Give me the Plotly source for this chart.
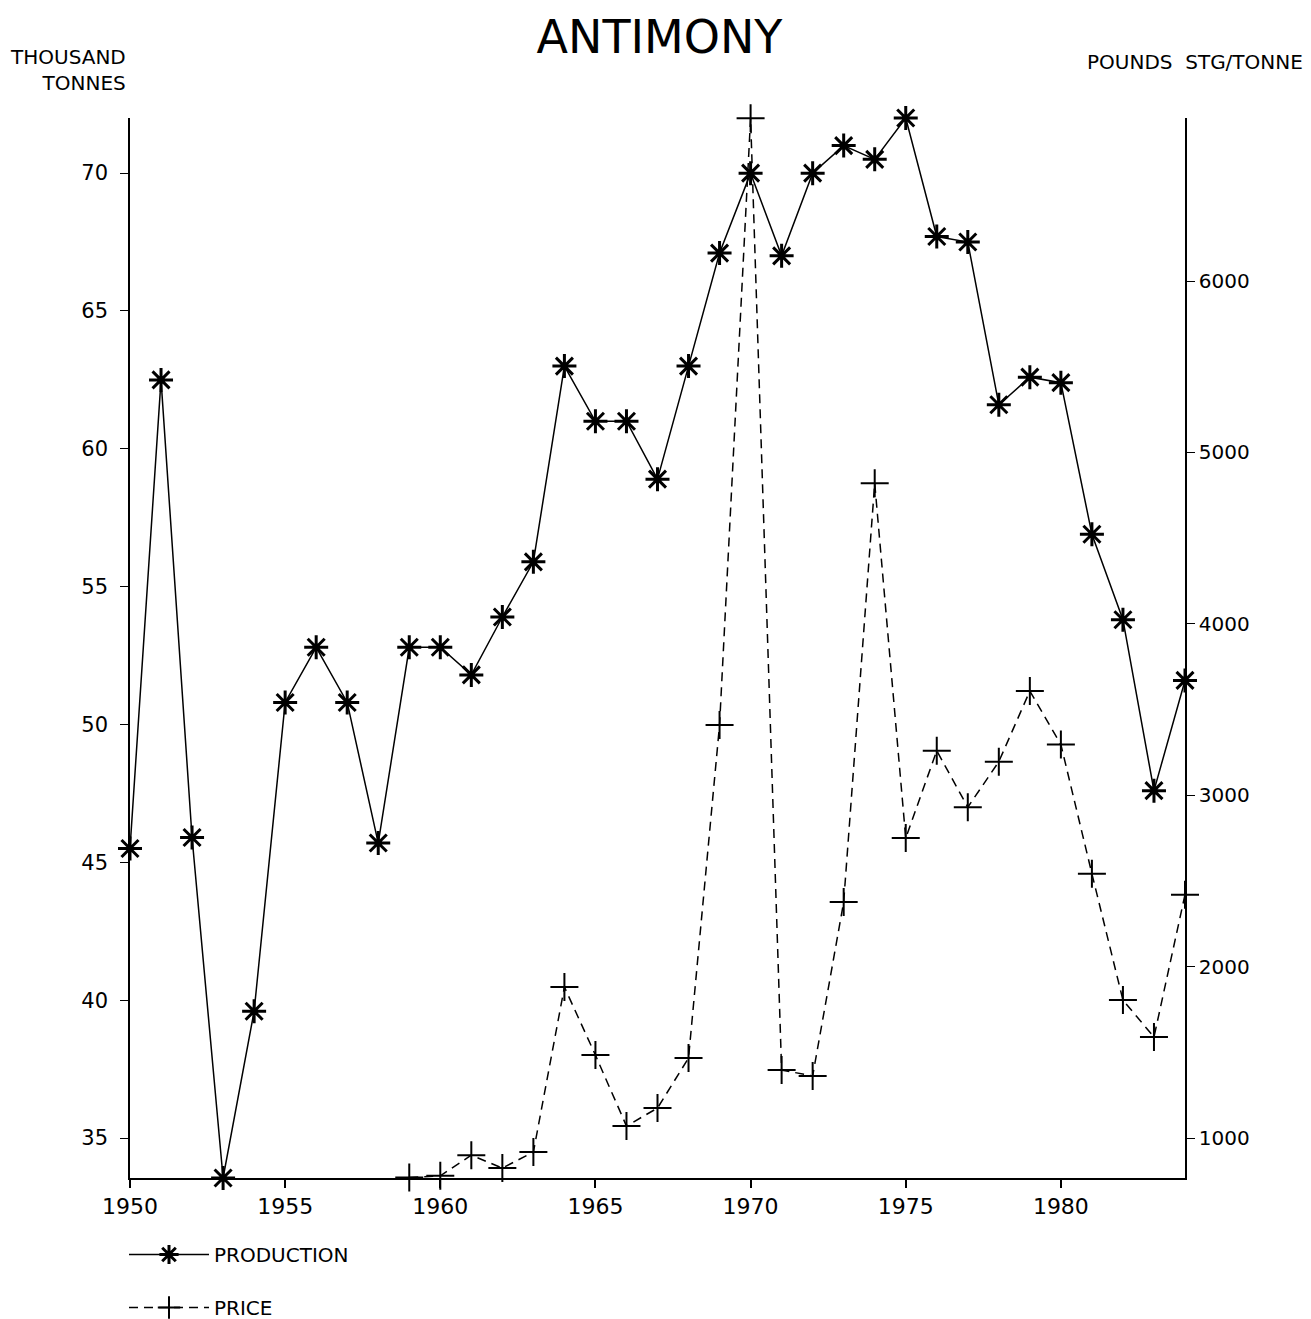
import plotly.graph_objects as go

# antimony production (thousand tonnes) and price (pounds stg / tonne)
years = list(range(1950, 1985))
production = [45.5, 62.5, 45.9, 33.55, 39.6, 50.8, 52.8, 50.8, 45.7, 52.8,
              52.8, 51.8, 53.9, 55.9, 63.0, 61.0, 61.0, 58.9, 63.0, 67.1,
              70.0, 67.0, 70.0, 71.0, 70.5, 72.0, 67.7, 67.5, 61.6, 62.6,
              62.4, 56.9, 53.8, 47.6, 51.6]

price_years = list(range(1959, 1985))
price = [770, 780, 900, 825, 918, 1881, 1484, 1070, 1175, 1467, 3410,
         6950, 1397, 1362, 2377, 4820, 2750, 3260, 2930, 3196, 3608,
         3296, 2542, 1805, 1589, 2420]

left_ticks = [35, 40, 45, 50, 55, 60, 65, 70]
right_ticks = [1000, 2000, 3000, 4000, 5000, 6000]
x_ticks = [1950, 1955, 1960, 1965, 1970, 1975, 1980]

font_name = "DejaVu Sans"
# the page body has an 8px margin, so the figure is a bit smaller than the window
W, H = 1303, 1311

fig = go.Figure()

fig.add_trace(go.Scatter(
    x=years, y=production,
    mode='lines+markers',
    line=dict(color='black', width=1.5),
    marker=dict(symbol='asterisk-open', size=20,
                line=dict(color='black', width=3)),
    cliponaxis=False,
    legendgroup='prod',
    name='PRODUCTION'
))

fig.add_trace(go.Scatter(
    x=price_years, y=price,
    mode='lines+markers',
    line=dict(color='black', width=1.5, dash='9px,6px'),
    marker=dict(symbol='cross-thin-open', size=20,
                line=dict(color='black', width=2)),
    cliponaxis=False,
    yaxis='y2',
    legendgroup='price',
    name='PRICE'
))

fig.update_layout(
    width=W, height=H,
    margin=dict(l=122, r=126, t=110, b=141, autoexpand=False),
    paper_bgcolor='white', plot_bgcolor='white',
    font=dict(family=font_name, color='black'),
    title=dict(text='ANTIMONY', x=0.5, xanchor='center',
               y=1 - 29 / H, yanchor='middle',
               font=dict(size=46, family=font_name, color='black')),
    xaxis=dict(
        range=[1950, 1984], tickvals=x_ticks,
        showgrid=False, zeroline=False,
        showline=True, linecolor='black', linewidth=2,
        ticks='outside', ticklen=8, tickcolor='black', tickwidth=1.5,
        tickfont=dict(size=22),
    ),
    yaxis=dict(
        range=[33.55, 72.0], tickvals=left_ticks,
        showgrid=False, zeroline=False,
        showline=True, linecolor='black', linewidth=1.5,
        ticks='outside', ticklen=8, tickcolor='black',
        ticklabelstandoff=8,
        tickfont=dict(size=21),
    ),
    yaxis2=dict(
        range=[767, 6951], tickvals=right_ticks,
        overlaying='y', side='right',
        showgrid=False, zeroline=False,
        showline=True, linecolor='black', linewidth=1.5,
        ticks='outside', ticklen=8, tickcolor='black',
        tickfont=dict(size=20),
    ),
    legend=dict(
        xref='container', yref='container',
        x=116 / W, y=1 - 1227 / H, xanchor='left', yanchor='top',
        font=dict(size=20), tracegroupgap=24,
        itemwidth=80, bgcolor='rgba(0,0,0,0)'
    ),
    showlegend=True,
)

fig.add_annotation(text='THOUSAND<br>TONNES', xref='paper', yref='paper',
                   x=0, y=1, xanchor='right', yanchor='middle',
                   xshift=-2, yshift=48, align='right',
                   showarrow=False, font=dict(size=20))
fig.add_annotation(text='POUNDS  STG/TONNE', xref='paper', yref='paper',
                   x=1, y=1, xanchor='right', yanchor='middle',
                   xshift=120, yshift=56, align='right',
                   showarrow=False, font=dict(size=20))

fig.write_html("out.html")
